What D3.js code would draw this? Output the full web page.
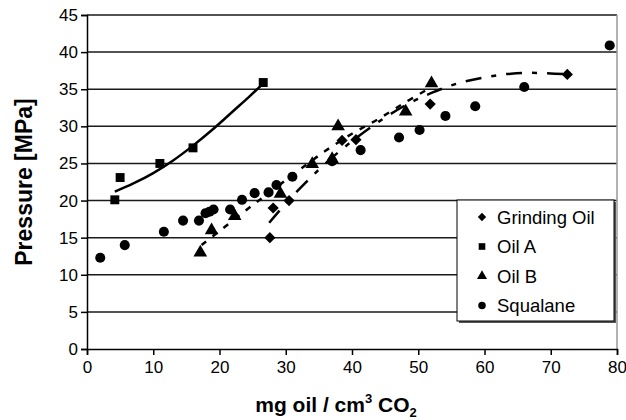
<!DOCTYPE html>
<html lang="en">
<head>
    <meta charset="UTF-8">
    <title>Pressure vs oil loading</title>
    <script src="https://cdnjs.cloudflare.com/ajax/libs/d3/7.8.5/d3.min.js"></script>
    <style>
        body {
            margin: 0;
            padding: 0;
            background: #fff;
            font-family: "Liberation Sans", Arial, sans-serif;
        }
    </style>
</head>
<body>
    <div id="chart"></div>

    <script>
        // measured points [mg oil / cm3 CO2, MPa]
        const grindingOil = [[27.6, 15.0], [28.1, 19.0], [30.5, 20.0], [38.5, 28.1], [40.6, 28.2], [51.8, 33.0], [72.5, 37.0]];
        const oilA = [[4.2, 20.1], [5.0, 23.1], [11.0, 25.0], [16.0, 27.1], [26.6, 35.9]];
        const oilB = [[17.1, 13.0], [18.8, 16.0], [22.3, 17.9], [29.2, 20.9], [34.0, 24.9], [37.0, 25.6], [37.9, 30.0], [48.1, 32.0], [52.0, 35.8]];
        const squalane = [[2.0, 12.3], [5.7, 14.0], [11.6, 15.8], [14.5, 17.3], [16.9, 17.3], [17.9, 18.3], [18.5, 18.5], [19.1, 18.8],
            [21.6, 18.8], [23.4, 20.1], [25.3, 21.0], [27.4, 21.1], [28.6, 22.1], [31.0, 23.2], [37.0, 25.3], [41.3, 26.8],
            [47.1, 28.5], [50.2, 29.5], [54.1, 31.4], [58.6, 32.7], [66.0, 35.3], [78.9, 40.9]];

        // trend lines
        const oilAFit = [[4.2, 21.2], [7, 22.3], [10, 23.7], [13, 25.4], [16, 27.4], [19, 29.6], [22, 32.0], [24.5, 34.0], [26.5, 35.7]];
        const oilBFit = [[17.3, 14.0], [20, 15.9], [24, 18.7], [28, 21.4], [32, 24.1], [36, 26.7], [40, 29.0], [44, 31.0], [48, 33.2], [52, 35.3]];
        const grindingFit = [[27.5, 17.0], [30, 19.6], [33, 22.4], [36, 25.0], [40, 28.0], [44, 30.6], [48, 32.8], [52, 34.5],
            [56, 35.8], [60, 36.6], [64, 37.1], [68, 37.2], [72.5, 37.0]];

        const xTicks = [0, 10, 20, 30, 40, 50, 60, 70, 80];
        const yTicks = [0, 5, 10, 15, 20, 25, 30, 35, 40, 45];
        const legendNames = ['Grinding Oil', 'Oil A', 'Oil B', 'Squalane'];

        const width = 626, height = 420;
        const margin = { top: 15, right: 9, bottom: 71, left: 87 };

        const svg = d3.select('#chart').append('svg')
            .attr('width', width)
            .attr('height', height);

        const x = d3.scaleLinear().domain([0, 80]).range([margin.left, width - margin.right]);
        const y = d3.scaleLinear().domain([0, 45]).range([height - margin.bottom, margin.top]);

        // horizontal grid
        svg.append('g')
            .selectAll('line')
            .data(yTicks.filter(d => d > 0))
            .join('line')
            .attr('x1', x(0)).attr('x2', x(80))
            .attr('y1', d => y(d)).attr('y2', d => y(d))
            .attr('stroke', '#1a1a1a')
            .attr('stroke-width', 1.5);

        // right border
        svg.append('line')
            .attr('x1', x(80)).attr('x2', x(80))
            .attr('y1', y(45)).attr('y2', y(0))
            .attr('stroke', '#999')
            .attr('stroke-width', 1.5);

        const xAxis = svg.append('g')
            .attr('transform', `translate(0,${y(0)})`)
            .call(d3.axisBottom(x).tickValues(xTicks).tickSize(6).tickPadding(6));
        const yAxis = svg.append('g')
            .attr('transform', `translate(${x(0)},0)`)
            .call(d3.axisLeft(y).tickValues(yTicks).tickSize(6).tickPadding(3));

        [xAxis, yAxis].forEach(g => {
            g.select('.domain').attr('stroke', '#000').attr('stroke-width', 1.5);
            g.selectAll('.tick line').attr('stroke', '#000').attr('stroke-width', 1.5);
            g.selectAll('.tick text')
                .attr('font-family', '"Liberation Sans", Arial, sans-serif')
                .attr('font-size', 17)
                .attr('fill', '#000');
        });

        // trend lines
        const line = d3.line()
            .x(d => x(d[0]))
            .y(d => y(d[1]))
            .curve(d3.curveCatmullRom);

        svg.append('path').datum(oilAFit)
            .attr('d', line).attr('fill', 'none')
            .attr('stroke', '#000').attr('stroke-width', 2.5);
        svg.append('path').datum(oilBFit)
            .attr('d', line).attr('fill', 'none')
            .attr('stroke', '#000').attr('stroke-width', 2.5)
            .attr('stroke-dasharray', '6,8');
        svg.append('path').datum(grindingFit)
            .attr('d', line).attr('fill', 'none')
            .attr('stroke', '#000').attr('stroke-width', 2.5)
            .attr('stroke-dasharray', '16,10,5,10');

        // markers
        const shapes = {
            'Grinding Oil': { type: d3.symbolDiamond2, size: 80 },
            'Oil A': { type: d3.symbolSquare, size: 80 },
            'Oil B': { type: d3.symbolTriangle, size: 80 },
            'Squalane': { type: d3.symbolCircle, size: 80 }
        };
        const seriesData = {
            'Grinding Oil': grindingOil,
            'Oil A': oilA,
            'Oil B': oilB,
            'Squalane': squalane
        };

        legendNames.forEach(name => {
            const s = shapes[name];
            svg.append('g')
                .selectAll('path')
                .data(seriesData[name])
                .join('path')
                .attr('transform', d => `translate(${x(d[0])},${y(d[1])})`)
                .attr('d', d3.symbol().type(s.type).size(s.size))
                .attr('fill', '#000');
        });

        // legend
        const legend = svg.append('g').attr('transform', 'translate(457,200)');
        legend.append('rect')
            .attr('x', 2).attr('y', 2)
            .attr('width', 157).attr('height', 121)
            .attr('fill', '#555');
        legend.append('rect')
            .attr('width', 157).attr('height', 121)
            .attr('fill', '#fff')
            .attr('stroke', '#000')
            .attr('stroke-width', 1);

        legendNames.forEach((name, i) => {
            const row = legend.append('g').attr('transform', `translate(0,${17 + i * 29.5})`);
            row.append('path')
                .attr('transform', 'translate(25,0)')
                .attr('d', d3.symbol().type(shapes[name].type).size(shapes[name].size * 0.55))
                .attr('fill', '#000');
            row.append('text')
                .attr('x', 40)
                .attr('y', 6.5)
                .attr('font-size', 18.5)
                .attr('fill', '#000')
                .text(name);
        });

        // axis titles
        const xTitle = svg.append('text')
            .attr('x', 336)
            .attr('y', 412)
            .attr('text-anchor', 'middle')
            .attr('font-size', 21)
            .attr('font-weight', 'bold')
            .attr('fill', '#000');
        xTitle.append('tspan').text('mg oil / cm');
        xTitle.append('tspan').attr('font-size', 13).attr('dy', -9).text('3');
        xTitle.append('tspan').attr('dy', 9).text(' CO');
        xTitle.append('tspan').attr('font-size', 13).attr('dy', 5).text('2');

        svg.append('text')
            .attr('transform', `translate(32,${(y(0) + y(45)) / 2}) rotate(-90)`)
            .attr('text-anchor', 'middle')
            .attr('font-size', 23)
            .attr('font-weight', 'bold')
            .attr('fill', '#000')
            .text('Pressure [MPa]');
    </script>
</body>
</html>
